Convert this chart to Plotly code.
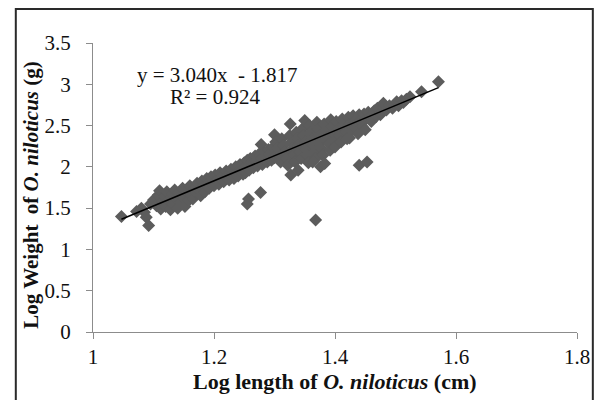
import plotly.graph_objects as go

# ---------------- data ----------------
log_length = [
    1.047, 1.072, 1.080, 1.085, 1.088, 1.092, 1.095,
    1.100, 1.105, 1.108, 1.110, 1.112, 1.115, 1.118, 1.120, 1.122, 1.125, 1.128, 1.130, 1.132, 1.135, 1.138, 1.140, 1.142, 1.145, 1.148, 1.150,
    1.152, 1.155, 1.158, 1.160, 1.162, 1.165, 1.168, 1.170, 1.172, 1.175, 1.178, 1.180, 1.182, 1.185, 1.188, 1.190, 1.192, 1.195, 1.198, 1.200,
    1.202, 1.205, 1.208, 1.210, 1.213, 1.216, 1.220, 1.222, 1.225, 1.228, 1.230, 1.233, 1.236, 1.238, 1.240, 1.243, 1.245, 1.248, 1.250, 1.250,
    1.252, 1.255, 1.257, 1.258, 1.260, 1.262, 1.265, 1.268, 1.270, 1.272, 1.275, 1.278, 1.278, 1.280, 1.282, 1.285, 1.288, 1.290, 1.292, 1.295, 1.298, 1.300, 1.300, 1.300,
    1.255, 1.257, 1.277,
    1.302, 1.305, 1.308, 1.310, 1.312, 1.315, 1.318, 1.320, 1.322, 1.325, 1.326, 1.327, 1.328, 1.330, 1.332, 1.334, 1.336, 1.338, 1.340, 1.342, 1.339, 1.344, 1.346, 1.348, 1.350, 1.350, 1.352, 1.354, 1.356,
    1.358, 1.360, 1.362, 1.364, 1.366, 1.368, 1.363, 1.370, 1.372, 1.374, 1.376, 1.378, 1.380, 1.376, 1.383, 1.382, 1.385, 1.388, 1.390, 1.392, 1.393, 1.395, 1.398, 1.400, 1.400,
    1.368,
    1.402, 1.405, 1.408, 1.410, 1.412, 1.415, 1.418, 1.420, 1.424, 1.422, 1.425, 1.428, 1.430, 1.432, 1.435, 1.438, 1.440, 1.442, 1.445, 1.448, 1.450, 1.450,
    1.440, 1.453,
    1.455, 1.458, 1.460, 1.465, 1.468, 1.470, 1.475, 1.475, 1.480, 1.480, 1.485, 1.490, 1.495, 1.500, 1.502, 1.505, 1.510, 1.513, 1.518, 1.524,
    1.543, 1.571,
]
log_weight = [
    1.40, 1.46, 1.50, 1.45, 1.39, 1.29, 1.55,
    1.60, 1.53, 1.66, 1.71, 1.49, 1.58, 1.64, 1.52, 1.70, 1.59, 1.48, 1.67, 1.55, 1.72, 1.62, 1.50, 1.68, 1.57, 1.74, 1.63,
    1.52, 1.70, 1.59, 1.77, 1.66, 1.61, 1.74, 1.68, 1.80, 1.72, 1.65, 1.83, 1.76, 1.70, 1.86, 1.79, 1.74, 1.88, 1.82, 1.77,
    1.90, 1.84, 1.79, 1.93, 1.87, 1.82, 1.95, 1.89, 1.84, 1.97, 1.92, 1.86, 2.00, 1.94, 1.89, 2.03, 1.97, 1.91, 2.05, 1.99,
    1.93, 2.08, 2.02, 1.96, 2.10, 2.05, 1.99, 2.13, 2.07, 2.01, 2.16, 2.27, 2.10, 2.03, 2.18, 2.12, 2.06, 2.21, 2.15, 2.08, 2.24, 2.39, 2.18, 2.11,
    1.55, 1.61, 1.69,
    2.30, 2.22, 2.14, 2.06, 2.34, 2.26, 2.18, 2.10, 2.02, 2.38, 2.52, 1.90, 2.30, 2.22, 2.14, 2.06, 2.42, 2.34, 2.26, 2.18, 1.96, 2.10, 2.46, 2.38, 2.56, 2.30, 2.22, 2.14, 2.05,
    2.50, 2.42, 2.34, 2.26, 2.18, 2.10, 2.06, 2.54, 2.46, 2.38, 2.30, 2.22, 2.14, 2.00, 2.04, 2.52, 2.44, 2.36, 2.28, 2.20, 2.57, 2.48, 2.40, 2.32, 2.24,
    1.355,
    2.55, 2.46, 2.38, 2.30, 2.58, 2.50, 2.42, 2.34, 2.35, 2.60, 2.52, 2.44, 2.62, 2.55, 2.47, 2.40, 2.63, 2.56, 2.49, 2.64, 2.57, 2.45,
    2.02, 2.06,
    2.66, 2.60, 2.55, 2.68, 2.61, 2.71, 2.63, 2.66, 2.72, 2.77, 2.69, 2.74, 2.71, 2.76, 2.79, 2.74, 2.80, 2.78, 2.82, 2.85,
    2.91, 3.03,
]

slope = 3.040
intercept = -1.817
r_squared = 0.924

x_ticks = [1, 1.2, 1.4, 1.6, 1.8]
x_tick_text = ["1", "1.2", "1.4", "1.6", "1.8"]
y_ticks = [0, 0.5, 1, 1.5, 2, 2.5, 3, 3.5]
y_tick_text = ["0", "0.5", "1", "1.5", "2", "2.5", "3", "3.5"]

# ---------------- figure ----------------
FONT = "Liberation Serif, Times New Roman, serif"
fig = go.Figure()

fig.add_trace(go.Scatter(
    x=log_length, y=log_weight, mode="markers",
    marker=dict(symbol="diamond", size=10, color="#5c5c5c", line=dict(width=0)),
    showlegend=False, hoverinfo="skip",
))

x_fit = [min(log_length), max(log_length)]
y_fit = [slope * v + intercept for v in x_fit]
fig.add_trace(go.Scatter(
    x=x_fit, y=y_fit, mode="lines",
    line=dict(color="#000000", width=1.5),
    showlegend=False, hoverinfo="skip",
))

axis_common = dict(
    showline=True, linecolor="#8c8c8c", linewidth=1,
    ticks="outside", ticklen=6, tickcolor="#8c8c8c", tickwidth=1,
    showgrid=False, zeroline=False,
    tickfont=dict(family=FONT, size=21, color="#111111"),
)

fig.update_xaxes(range=[1, 1.8], tickvals=x_ticks, ticktext=x_tick_text, **axis_common)
fig.update_yaxes(range=[0, 3.5], tickvals=y_ticks, ticktext=y_tick_text,
                 ticklabelstandoff=11, **axis_common)

fig.update_layout(
    width=602, height=400,
    margin=dict(l=93, r=20, t=43, b=68),
    paper_bgcolor="white", plot_bgcolor="white",
    shapes=[dict(type="rect", xref="paper", yref="paper",
                 x0=-0.1595, x1=1.0327, y0=-0.25, y1=1.1176,
                 line=dict(color="#2a2a2a", width=2), fillcolor="rgba(0,0,0,0)",
                 layer="below")],
    annotations=[
        dict(text="<b>Log length of <i>O. niloticus</i> (cm)</b>",
             xref="paper", yref="paper", x=0.5, y=-0.1696,
             xanchor="center", yanchor="middle", showarrow=False,
             font=dict(family=FONT, size=22, color="#111111")),
        dict(text="<b>Log Weight\u00a0 of <i>O. niloticus</i> (g)</b>",
             xref="paper", yref="paper", x=-0.1288, y=0.474,
             xanchor="center", yanchor="middle", textangle=-90, showarrow=False,
             font=dict(family=FONT, size=21, color="#111111")),
        dict(text=f"y = {slope:.3f}x\u00a0 - {abs(intercept):.3f}",
             xref="paper", yref="paper", x=0.2577, y=0.889,
             xanchor="center", yanchor="middle", showarrow=False,
             font=dict(family=FONT, size=21, color="#111111")),
        dict(text=f"R² = {r_squared:.3f}",
             xref="paper", yref="paper", x=0.2515, y=0.813,
             xanchor="center", yanchor="middle", showarrow=False,
             font=dict(family=FONT, size=21, color="#111111")),
    ],
)

fig.write_html("out.html")
